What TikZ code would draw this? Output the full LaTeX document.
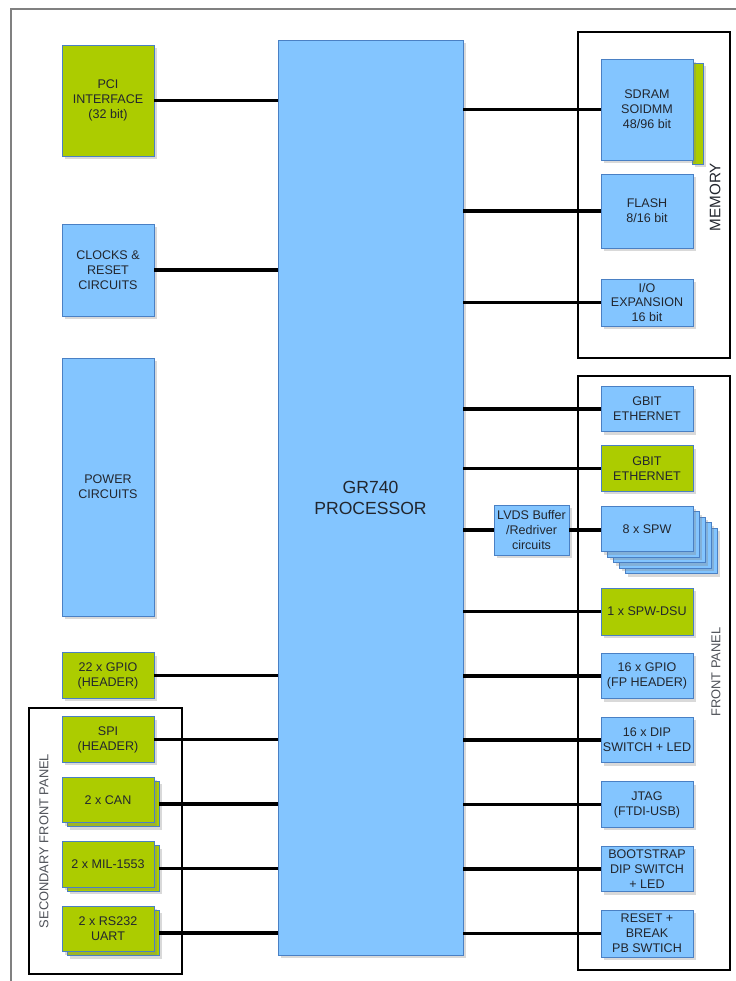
\documentclass[tikz,border=0pt]{standalone}
\usepackage{fontspec}
\setmainfont{Liberation Sans}
\usetikzlibrary{shadows}
\definecolor{boxblue}{RGB}{131,197,255}
\definecolor{boxgreen}{RGB}{172,204,0}
\definecolor{edgeblue}{RGB}{74,128,196}
\definecolor{ink}{RGB}{34,38,46}
\definecolor{framegrey}{RGB}{128,128,128}

\begin{document}
\begin{tikzpicture}[x=0.03cm, y=-0.03cm,
  blk/.style={draw=edgeblue, line width=0.7pt, inner sep=1pt, align=center,
              text=ink, font=\fontsize{10.7}{12.7}\selectfont,
              minimum width=2.76cm, minimum height=1.37cm,
              drop shadow={shadow xshift=2.5pt, shadow yshift=-2.5pt, opacity=.3}},
  bluebox/.style={blk, fill=boxblue},
  greenbox/.style={blk, fill=boxgreen},
  panel/.style={draw=black, line width=1.1pt, inner sep=0pt},
  tag/.style={rotate=90, text=ink!80, font=\fontsize{11}{13}\selectfont},
  link/.style={line width=3.3pt, black},
]
  \useasboundingbox (0,0) rectangle (736,981);
  \draw[framegrey, line width=1.2pt] (11,981) -- (11,9) -- (736,9);

  % frames
  \node[panel, minimum width=4.56cm, minimum height=9.78cm] (memframe) at (654,195) {};
  \node[panel, minimum width=4.56cm, minimum height=17.82cm] (fpframe) at (654,673) {};
  \node[panel, minimum width=4.59cm, minimum height=7.98cm] (secframe) at (105.5,841) {};
  \node[tag, text=ink, font=\fontsize{13}{15}\selectfont] (memlabel) at (715,197) {MEMORY};
  \node[tag] (fplabel) at (716,672) {FRONT PANEL};
  \node[tag] (seclabel) at (44,841) {SECONDARY FRONT PANEL};

  \node[bluebox, minimum width=5.55cm, minimum height=27.45cm,
        font=\fontsize{15}{18}\selectfont] (gr) at (370.5,497.5) {GR740\\PROCESSOR};

  % left side
  \node[greenbox, minimum height=3.33cm] (pci) at (108,100.5) {PCI\\INTERFACE\\(32 bit)};
  \node[bluebox, minimum height=2.76cm] (clk) at (108,270) {CLOCKS \&\\RESET\\CIRCUITS};
  \node[bluebox, minimum height=7.74cm] (pwr) at (108,487) {POWER\\CIRCUITS};
  \node[greenbox] (gpioh) at (108,675.5) {22 x GPIO\\(HEADER)};
  \node[greenbox] (spi) at (108,739.5) {SPI\\(HEADER)};
  \foreach \name/\y/\txt in {can/800/2 x CAN, mil/864.5/2 x MIL-1553, uart/929/{2 x RS232\\UART}}{
    \node[greenbox] (\name2) at (113,\y+4) {};
    \node[greenbox] (\name) at (108,\y) {\txt};
  }

  % right side
  \node[greenbox, minimum width=0.33cm, minimum height=3.03cm, drop shadow={opacity=0}] (sdram2) at (697.5,113.5) {};
  \node[bluebox, minimum height=3.03cm] (sdram) at (647,109.5) {SDRAM\\SOIDMM\\48/96 bit};
  \node[bluebox, minimum height=2.22cm] (flash) at (647,211) {FLASH\\8/16 bit};
  \node[bluebox, minimum height=1.41cm] (io) at (647,302.5) {I/O\\EXPANSION\\16 bit};
  \node[bluebox] (eth) at (647,409) {GBIT\\ETHERNET};
  \node[greenbox] (ethb) at (647,468.5) {GBIT\\ETHERNET};
  \foreach \k in {4,3,2,1}
    \node[bluebox] (spw\k) at (647+\k*6,529+\k*5.5) {};
  \node[bluebox] (spw) at (647,529) {8 x SPW};
  \node[bluebox, minimum width=2.25cm, minimum height=1.5cm] (lvds) at (531.5,530) {LVDS Buffer\\/Redriver\\circuits};
  \node[greenbox, minimum height=1.41cm] (dsu) at (647,611.5) {1 x SPW-DSU};
  \node[bluebox] (gpiofp) at (647,676) {16 x GPIO\\(FP HEADER)};
  \node[bluebox] (dip) at (647,740) {16 x DIP\\SWITCH + LED};
  \node[bluebox] (jtag) at (647,804.5) {JTAG\\(FTDI-USB)};
  \node[bluebox] (boot) at (647,869) {BOOTSTRAP\\DIP SWITCH\\+ LED};
  \node[bluebox, minimum height=1.41cm] (rst) at (647,933.5) {RESET +\\BREAK\\PB SWTICH};

  % buses
  \foreach \b in {pci,clk,gpioh,spi,can2,mil2,uart2}
    \draw[link] (\b.east) -- (\b.east -| gr.west);
  \foreach \b in {sdram,flash,io,eth,ethb,lvds,dsu,gpiofp,dip,jtag,boot,rst}
    \draw[link] (\b.west) -- (\b.west -| gr.east);
  \draw[link] (lvds.east) -- (lvds.east -| spw.west);
\end{tikzpicture}
\end{document}
